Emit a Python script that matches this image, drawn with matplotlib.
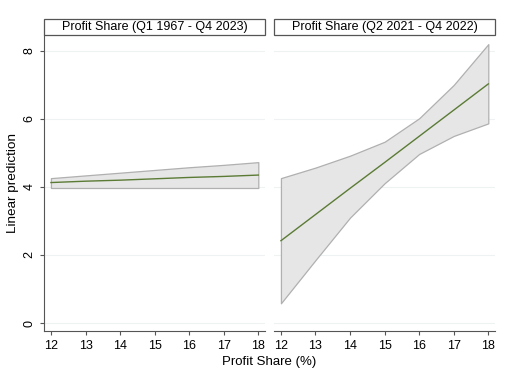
import numpy as np
import matplotlib.pyplot as plt
from matplotlib.patches import Rectangle

plt.rcParams['font.family'] = ['Liberation Sans', 'DejaVu Sans']

profit_share = [12, 13, 14, 15, 16, 17, 18]

# Q1 1967 - Q4 2023
full_pred = [4.13, 4.17, 4.20, 4.24, 4.28, 4.31, 4.35]
full_upper = [4.26, 4.34, 4.42, 4.50, 4.58, 4.65, 4.73]
full_lower = [3.97, 3.97, 3.97, 3.97, 3.97, 3.97, 3.97]

# Q2 2021 - Q4 2022
recent_pred = [2.42, 3.19, 3.96, 4.72, 5.49, 6.26, 7.03]
recent_upper = [4.26, 4.57, 4.92, 5.33, 6.02, 7.00, 8.20]
recent_lower = [0.58, 1.85, 3.10, 4.11, 4.97, 5.50, 5.87]

titles = ["Profit Share (Q1 1967 - Q4 2023)", "Profit Share (Q2 2021 - Q4 2022)"]
panels = [(full_pred, full_upper, full_lower), (recent_pred, recent_upper, recent_lower)]

fig = plt.figure(figsize=(5.18, 3.84), dpi=100)
lefts = [0.085, 0.529]
axes = []
for i, (pred, up, lo) in enumerate(panels):
    ax = fig.add_axes([lefts[i], 0.138, 0.427, 0.771])
    axes.append(ax)
    ax.fill_between(profit_share, lo, up, facecolor='#e6e6e6', edgecolor='#b0b0b0', linewidth=0.9, zorder=2)
    ax.plot(profit_share, pred, color='#5b7b35', linewidth=1.0, zorder=3)
    ax.set_xlim(11.8, 18.2)
    ax.set_ylim(-0.235, 8.47)
    ax.set_xticks(profit_share)
    ax.set_yticks([0, 2, 4, 6, 8])
    ax.grid(axis='y', color='#eef2f2', linewidth=0.8, zorder=0)
    ax.set_axisbelow(True)
    for s in ['top', 'right']:
        ax.spines[s].set_visible(False)
    ax.spines['bottom'].set_color('#555555')
    ax.spines['left'].set_color('#555555')
    ax.tick_params(axis='both', labelsize=9, length=3, color='#555555', width=0.8)
    ax.tick_params(axis='y', labelrotation=90, pad=3)
    for lab in ax.get_yticklabels():
        lab.set_va('center')
    # title box
    ax.add_patch(Rectangle((0, 1.0), 1, 0.054, transform=ax.transAxes, facecolor='white',
                           edgecolor='#555555', linewidth=0.9, clip_on=False))
    ax.text(0.5, 1.027, titles[i], transform=ax.transAxes, ha='center', va='center', fontsize=9)

axes[1].spines['left'].set_visible(False)
axes[1].tick_params(axis='y', left=False, labelleft=False)
axes[0].set_ylabel("Linear prediction", fontsize=9.7)
axes[0].yaxis.set_label_coords(-0.115, 0.5)
fig.text(0.52, 0.057, "Profit Share (%)", ha='center', va='center', fontsize=9.5)

fig.savefig("out.png", dpi=100)
